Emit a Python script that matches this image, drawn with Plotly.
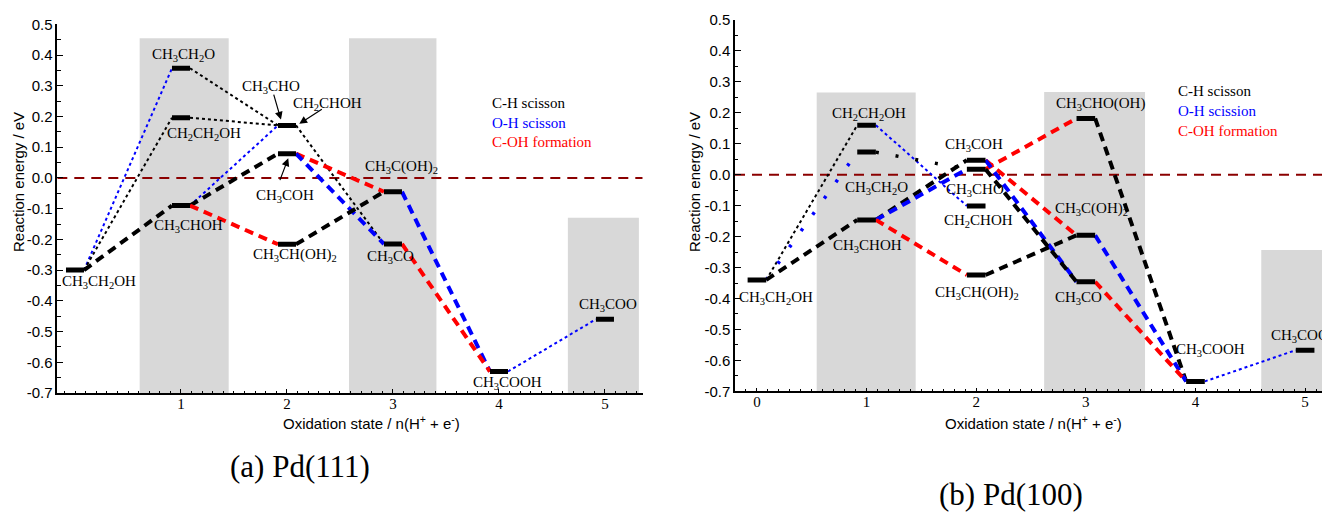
import plotly.graph_objects as go

W, H = 1330, 512
OFF = 8  # page body margin of the html page (screen px)

# ---------------- data ----------------
# Panel (a) Pd(111)
a_species = ["CH<sub>3</sub>CH<sub>2</sub>OH", "CH<sub>3</sub>CH<sub>2</sub>O", "CH<sub>2</sub>CH<sub>2</sub>OH",
             "CH<sub>3</sub>CHOH", "CH<sub>3</sub>CHO", "CH<sub>3</sub>COH", "CH<sub>3</sub>CH(OH)<sub>2</sub>",
             "CH<sub>3</sub>C(OH)<sub>2</sub>", "CH<sub>3</sub>CO", "CH<sub>3</sub>COOH", "CH<sub>3</sub>COO"]
a_state = [0, 1, 1, 1, 2, 2, 2, 3, 3, 4, 5]
a_energy = [-0.300, 0.357, 0.196, -0.090, 0.171, 0.079, -0.216, -0.045, -0.215, -0.630, -0.460]
a_from = [0, 0, 0, 1, 2, 3, 3, 3, 4, 5, 5, 6, 7, 8, 9]
a_to = [1, 2, 3, 4, 4, 4, 5, 6, 8, 7, 8, 7, 9, 9, 10]
a_type = ["O-H", "C-H", "C-H", "C-H", "C-H", "O-H", "C-H", "C-OH", "C-H", "C-OH", "O-H", "C-H", "O-H", "C-OH", "O-H"]
a_path = ["minor", "minor", "major", "minor", "minor", "minor", "major", "major", "minor", "major", "major",
          "major", "major", "major", "minor"]

# Panel (b) Pd(100)
b_species = ["CH<sub>3</sub>CH<sub>2</sub>OH", "CH<sub>2</sub>CH<sub>2</sub>OH", "CH<sub>3</sub>CH<sub>2</sub>O",
             "CH<sub>3</sub>CHOH", "CH<sub>3</sub>COH", "CH<sub>3</sub>CHO", "CH<sub>2</sub>CHOH",
             "CH<sub>3</sub>CH(OH)<sub>2</sub>", "CH<sub>3</sub>CHO(OH)", "CH<sub>3</sub>C(OH)<sub>2</sub>",
             "CH<sub>3</sub>CO", "CH<sub>3</sub>COOH", "CH<sub>3</sub>COO"]
b_state = [0, 1, 1, 1, 2, 2, 2, 2, 3, 3, 3, 4, 5]
b_energy = [-0.340, 0.160, 0.073, -0.146, 0.047, 0.018, -0.101, -0.324, 0.182, -0.196, -0.346, -0.668, -0.567]
b_from = [0, 0, 0, 1, 2, 3, 3, 3, 5, 4, 4, 5, 7, 8, 9, 10, 11]
b_to = [1, 2, 3, 6, 5, 4, 5, 7, 8, 9, 10, 10, 9, 11, 11, 11, 12]
b_type = ["C-H", "O-H", "C-H", "O-H", "C-H", "C-H", "O-H", "C-OH", "C-OH", "C-OH", "O-H", "C-H", "C-H",
          "C-H", "O-H", "C-OH", "O-H"]
b_path = ["minor", "sparse", "major", "minor", "sparse", "major", "major", "major", "major", "major", "major",
          "major", "major", "major", "major", "major", "minor"]

x_ticks_a = [1, 2, 3, 4, 5]
x_ticks_b = [0, 1, 2, 3, 4, 5]
y_ticks = [0.5, 0.4, 0.3, 0.2, 0.1, 0.0, -0.1, -0.2, -0.3, -0.4, -0.5, -0.6, -0.7]
y_tick_text = ["0.5", "0.4", "0.3", "0.2", "0.1", "0.0", "-0.1", "-0.2", "-0.3", "-0.4", "-0.5", "-0.6", "-0.7"]

legend_text_a = ["C-H scisson", "O-H scisson", "C-OH formation"]
legend_text_b = ["C-H scisson", "O-H scission", "C-OH formation"]

# ---------------- styles / layout placement ----------------
COLORS = {"C-H": "black", "O-H": "#0000ff", "C-OH": "#ff0000"}
PATH = {"minor": dict(width=2, dash="3px,3px"),
        "major": dict(width=4, dash="9px,6px"),
        "sparse": dict(width=3.5, dash="3px,17px")}
SERIF = "Liberation Serif, Times New Roman, serif"
SANS = "Liberation Sans, Arial, sans-serif"
HW = 0.085  # half width of a level bar (x units)


def fx(px):
    return (px - OFF) / W


def fy(py):
    return 1 - (py - OFF) / H


# label placement (x, y in data units) for each species
a_lab = [(0.225, -0.34), (1.02, 0.40), (1.22, 0.142), (1.07, -0.157), (1.845, 0.297), (1.98, -0.06),
         (2.08, -0.25), (3.08, 0.035), (2.98, -0.258), (4.085, -0.667), (5.03, -0.412)]
a_extra = [("CH<sub>2</sub>CHOH", 2.38, 0.24)]
b_lab = [(0.175, -0.397), (1.02, 0.197), (1.09, -0.042), (1.01, -0.23), (1.98, 0.097), (1.99, -0.05),
         (2.02, -0.149), (2.01, -0.381), (3.135, 0.228), (3.05, -0.112), (2.93, -0.397), (4.14, -0.567),
         (4.67, -0.521)]
# arrows in panel (a): (head x, head y, tail x, tail y)
a_arrows = [(1.943, 0.190, 1.871, 0.276), (2.116, 0.176, 2.343, 0.227), (2.012, 0.064, 1.928, -0.012)]

panels = [
    dict(xa="x", ya="y", dom_x=[fx(57.3), fx(642.7)], dom_y=[fy(393), fy(24.3)], xr=[-0.167, 5.356],
         state=a_state, energy=a_energy, fr=a_from, to=a_to, typ=a_type, path=a_path,
         names=a_species, lab=a_lab, extra=a_extra, ticks=x_ticks_a,
         rects=[(0.61, 1.45, 0.455), (2.585, 3.41, 0.455), (4.65, 5.32, -0.13)],
         legend=legend_text_a, leg_x=3.915, leg_y=[0.243, 0.180, 0.116],
         ytitle_x=18, xtitle_x=371, caption="(a) Pd(111)", cap_x=300, cap_y=466),
    dict(xa="x2", ya="y2", dom_x=[fx(735), 1.0], dom_y=[fy(391.3), fy(20)], xr=[-0.2, 5.30],
         state=b_state, energy=b_energy, fr=b_from, to=b_to, typ=b_type, path=b_path,
         names=b_species, lab=b_lab, extra=[], ticks=x_ticks_b,
         rects=[(0.545, 1.448, 0.266), (2.62, 3.54, 0.267), (4.6, 5.4, -0.243)],
         legend=legend_text_b, leg_x=3.82, leg_y=[0.270, 0.206, 0.141],
         ytitle_x=694, xtitle_x=1033, caption="(b) Pd(100)", cap_x=1011, cap_y=494),
]

fig = go.Figure()
shapes, annotations = [], []
layout_axes = {}

for i, p in enumerate(panels):
    xa, ya = p["xa"], p["ya"]
    for (x0, x1, top) in p["rects"]:
        shapes.append(dict(type="rect", xref=xa, yref=ya, x0=x0, x1=x1, y0=-0.7, y1=top,
                           fillcolor="#d8d8d8", line=dict(width=0), layer="below"))
    fig.add_trace(go.Scatter(x=p["xr"], y=[0, 0], mode="lines", xaxis=xa, yaxis=ya,
                             line=dict(color="#8b0000", width=2, dash="10px,7px"),
                             showlegend=False, hoverinfo="skip"))
    for f, t, ty, pa in zip(p["fr"], p["to"], p["typ"], p["path"]):
        st = PATH[pa]
        fig.add_trace(go.Scatter(
            x=[p["state"][f] + HW, p["state"][t] - HW], y=[p["energy"][f], p["energy"][t]],
            mode="lines", xaxis=xa, yaxis=ya, showlegend=False, hoverinfo="skip",
            line=dict(color=COLORS[ty], width=st["width"], dash=st["dash"])))
    bx, by = [], []
    for s, e in zip(p["state"], p["energy"]):
        bx += [s - HW, s + HW, None]
        by += [e, e, None]
    fig.add_trace(go.Scatter(x=bx, y=by, mode="lines", xaxis=xa, yaxis=ya, showlegend=False,
                             line=dict(color="black", width=5), hoverinfo="skip", cliponaxis=False))
    for name, (lx, ly) in zip(p["names"], p["lab"]):
        xanchor = "left" if (i == 1 and name == "CH<sub>3</sub>COO") else "center"
        annotations.append(dict(x=lx, y=ly, xref=xa, yref=ya, text=name, showarrow=False,
                                xanchor=xanchor, yanchor="middle",
                                font=dict(family=SERIF, size=15, color="black")))
    for (name, lx, ly) in p["extra"]:
        annotations.append(dict(x=lx, y=ly, xref=xa, yref=ya, text=name, showarrow=False,
                                xanchor="center", yanchor="middle",
                                font=dict(family=SERIF, size=15, color="black")))
    for txt, ly, col in zip(p["legend"], p["leg_y"], ["black", "#0000ff", "#ff0000"]):
        annotations.append(dict(x=p["leg_x"], y=ly, xref=xa, yref=ya, text=txt, showarrow=False,
                                xanchor="left", yanchor="middle",
                                font=dict(family=SERIF, size=15, color=col)))
    annotations.append(dict(x=fx(p["ytitle_x"]), y=fy(182), xref="paper", yref="paper",
                            xanchor="center", yanchor="middle",
                            text="Reaction energy / eV", textangle=-90, showarrow=False,
                            font=dict(family=SANS, size=15, color="black")))
    annotations.append(dict(x=fx(p["xtitle_x"]), y=fy(422), xref="paper", yref="paper",
                            xanchor="center", yanchor="middle",
                            text="Oxidation state / n(H<sup>+</sup> + e<sup>-</sup>)", showarrow=False,
                            font=dict(family=SANS, size=15, color="black")))
    annotations.append(dict(x=fx(p["cap_x"]), y=fy(p["cap_y"]), xref="paper", yref="paper",
                            xanchor="center", yanchor="middle",
                            text=p["caption"], showarrow=False,
                            font=dict(family=SERIF, size=31, color="black")))

    suffix = "" if i == 0 else "2"
    layout_axes["xaxis" + suffix] = dict(
        domain=p["dom_x"], range=p["xr"], anchor=ya, showgrid=False, zeroline=False, automargin=False,
        showline=True, linecolor="black", linewidth=1.5,
        tickmode="array", tickvals=p["ticks"], ticktext=[str(v) for v in p["ticks"]],
        ticks="inside", ticklen=4, tickcolor="black", ticklabelstandoff=-4,
        minor=dict(tickmode="linear", tick0=0, dtick=0.1, ticks="inside", ticklen=2.5, tickcolor="black"),
        tickfont=dict(family=SERIF, size=15, color="black"))
    layout_axes["yaxis" + suffix] = dict(
        domain=p["dom_y"], range=[-0.7, 0.5], anchor=xa, showgrid=False, zeroline=False, automargin=False,
        showline=True, linecolor="black", linewidth=1.5,
        tickmode="array", tickvals=y_ticks, ticktext=y_tick_text,
        ticks="inside", ticklen=6, tickcolor="black",
        minor=dict(tickmode="linear", tick0=0.05, dtick=0.1, ticks="inside", ticklen=3.5, tickcolor="black"),
        tickfont=dict(family=SANS, size=15, color="black"))

for (hx, hy, tx, ty) in a_arrows:
    annotations.append(dict(x=hx, y=hy, ax=tx, ay=ty, xref="x", yref="y", axref="x", ayref="y",
                            text="", showarrow=True, arrowhead=2, arrowsize=1.3, arrowwidth=1.2,
                            arrowcolor="black", standoff=0))

fig.update_layout(width=W, height=H, margin=dict(l=0, r=0, t=0, b=0, autoexpand=False),
                  paper_bgcolor="white", plot_bgcolor="white",
                  shapes=shapes, annotations=annotations, showlegend=False, **layout_axes)

fig.write_html("out.html")
